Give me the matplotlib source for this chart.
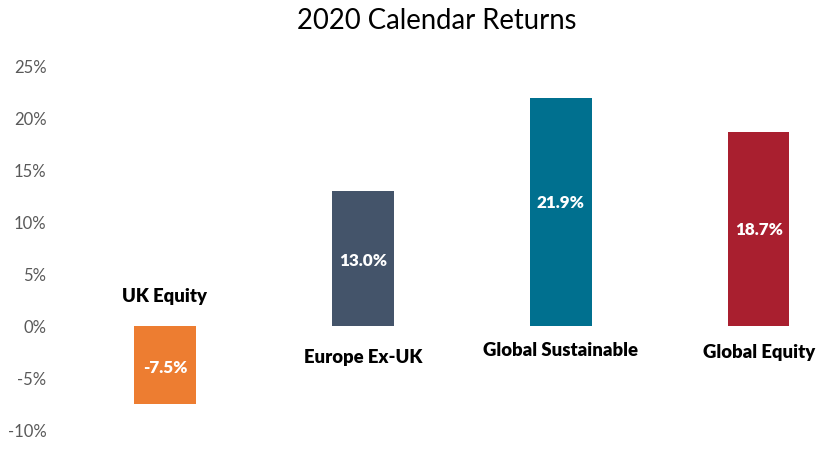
import matplotlib
matplotlib.use('Agg')
import matplotlib.pyplot as plt
from matplotlib.ticker import FuncFormatter

plt.rcParams['font.family'] = ['Lato', 'DejaVu Sans']

funds = ['UK Equity', 'Europe Ex-UK', 'Global Sustainable', 'Global Equity']
returns = [-7.5, 13.0, 21.9, 18.7]
colors = ['#ED7D31', '#44546A', '#00708F', '#A91F2F']

# where the fund names sit (in % units)
name_y = [2.9, -2.9, -2.3, -2.5]
value_y = [-3.9, 6.35, 11.9, 9.3]

fig = plt.figure(figsize=(8.32, 4.52), dpi=100)
ax = fig.add_axes([66 / 832, 21 / 452, 766 / 832, 364 / 452])

x = range(len(funds))
ax.bar(x, returns, width=0.31, color=colors)

for i in x:
    ax.text(i, name_y[i], funds[i], ha='center', va='center',
            fontsize=13.3, fontweight='heavy', color='black')
    ax.text(i, value_y[i], '%.1f%%' % returns[i], ha='center', va='center',
            fontsize=12.3, fontweight='heavy', color='white')

ax.set_xlim(-0.5, 3.37)
ax.set_ylim(-10, 25)
ax.set_yticks(range(-10, 30, 5))
ax.yaxis.set_major_formatter(FuncFormatter(lambda v, p: '%d%%' % v))
ax.tick_params(axis='y', length=0, pad=14, labelsize=12, labelcolor='#595959')
ax.set_xticks([])
for s in ax.spines.values():
    s.set_visible(False)

fig.text(437 / 832, 1 - 21 / 452, '2020 Calendar Returns', ha='center', va='center',
         fontsize=19.8, color='black')

fig.savefig('out.png', dpi=100)
